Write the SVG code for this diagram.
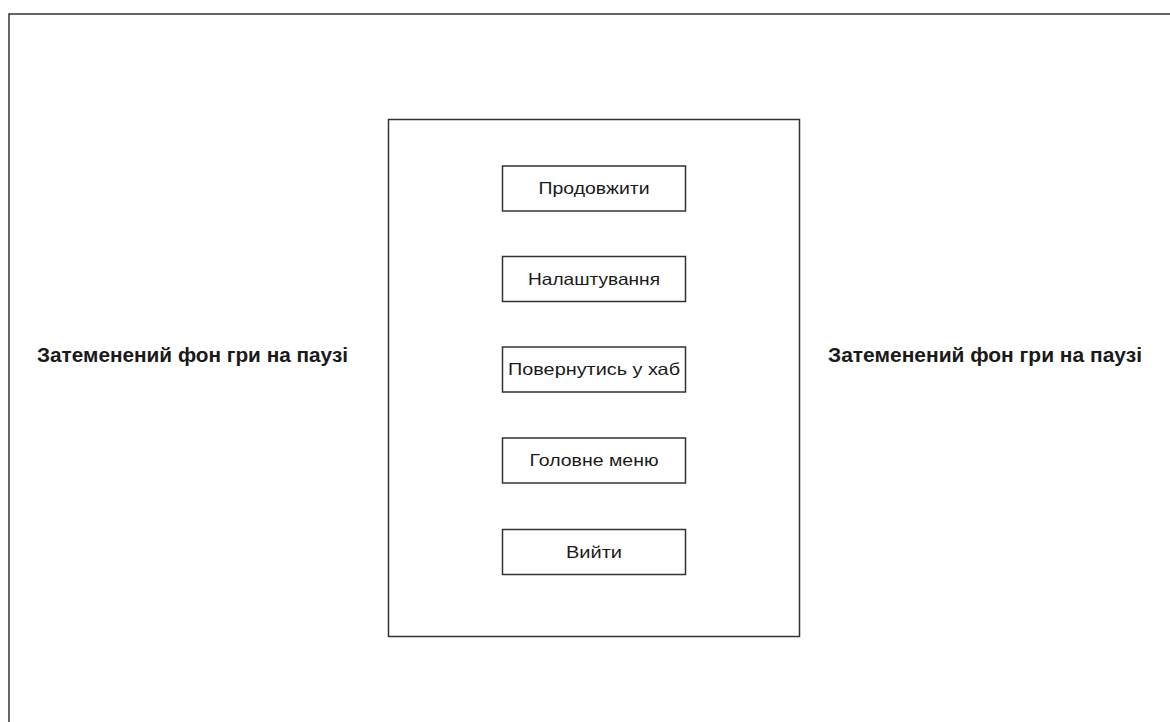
<svg xmlns="http://www.w3.org/2000/svg" width="1170" height="722" viewBox="0 0 1170 722">
  <style>
    .frame { fill: #ffffff; stroke: #333333; stroke-width: 1.5; }
    .panel { fill: #ffffff; stroke: #333333; stroke-width: 1.5; }
    .btn { fill: #ffffff; stroke: #333333; stroke-width: 1.5; }
    .btn-label { font-family: "Liberation Sans", Arial, sans-serif; font-size: 16.5px; fill: #1a1a1a; text-anchor: middle; dominant-baseline: central; }
    .bg-label { font-family: "Liberation Sans", Arial, sans-serif; font-size: 19.5px; font-weight: bold; fill: #1a1a1a; dominant-baseline: central; }
  </style>
  <rect width="1170" height="722" fill="#ffffff"/>

  <!-- screen frame -->
  <g id="screen">
    <rect class="frame" x="9" y="14" width="1180" height="730"/>
  </g>

  <!-- dimmed background captions -->
  <g id="bg-left">
    <text class="bg-label" x="37" y="355" textLength="311" lengthAdjust="spacingAndGlyphs">Затеменений фон гри на паузі</text>
  </g>
  <g id="bg-right">
    <text class="bg-label" x="828" y="355" textLength="314" lengthAdjust="spacingAndGlyphs">Затеменений фон гри на паузі</text>
  </g>

  <!-- pause panel -->
  <g id="pause-panel">
    <rect class="panel" x="388.5" y="119.5" width="411" height="517"/>
  </g>

  <g id="btn-continue">
    <rect class="btn" x="502.5" y="166" width="183" height="45"/>
    <text class="btn-label" x="594" y="188" textLength="111" lengthAdjust="spacingAndGlyphs">Продовжити</text>
  </g>
  <g id="btn-settings">
    <rect class="btn" x="502.5" y="256.5" width="183" height="45"/>
    <text class="btn-label" x="594" y="278.5" textLength="132" lengthAdjust="spacingAndGlyphs">Налаштування</text>
  </g>
  <g id="btn-hub">
    <rect class="btn" x="502.5" y="347" width="183" height="45"/>
    <text class="btn-label" x="594" y="369" textLength="172" lengthAdjust="spacingAndGlyphs">Повернутись у хаб</text>
  </g>
  <g id="btn-main-menu">
    <rect class="btn" x="502.5" y="438" width="183" height="45"/>
    <text class="btn-label" x="594" y="460" textLength="129" lengthAdjust="spacingAndGlyphs">Головне меню</text>
  </g>
  <g id="btn-exit">
    <rect class="btn" x="502.5" y="529.5" width="183" height="45"/>
    <text class="btn-label" x="594" y="551.5" textLength="56" lengthAdjust="spacingAndGlyphs">Вийти</text>
  </g>

  <g id="connectors"/>
</svg>
